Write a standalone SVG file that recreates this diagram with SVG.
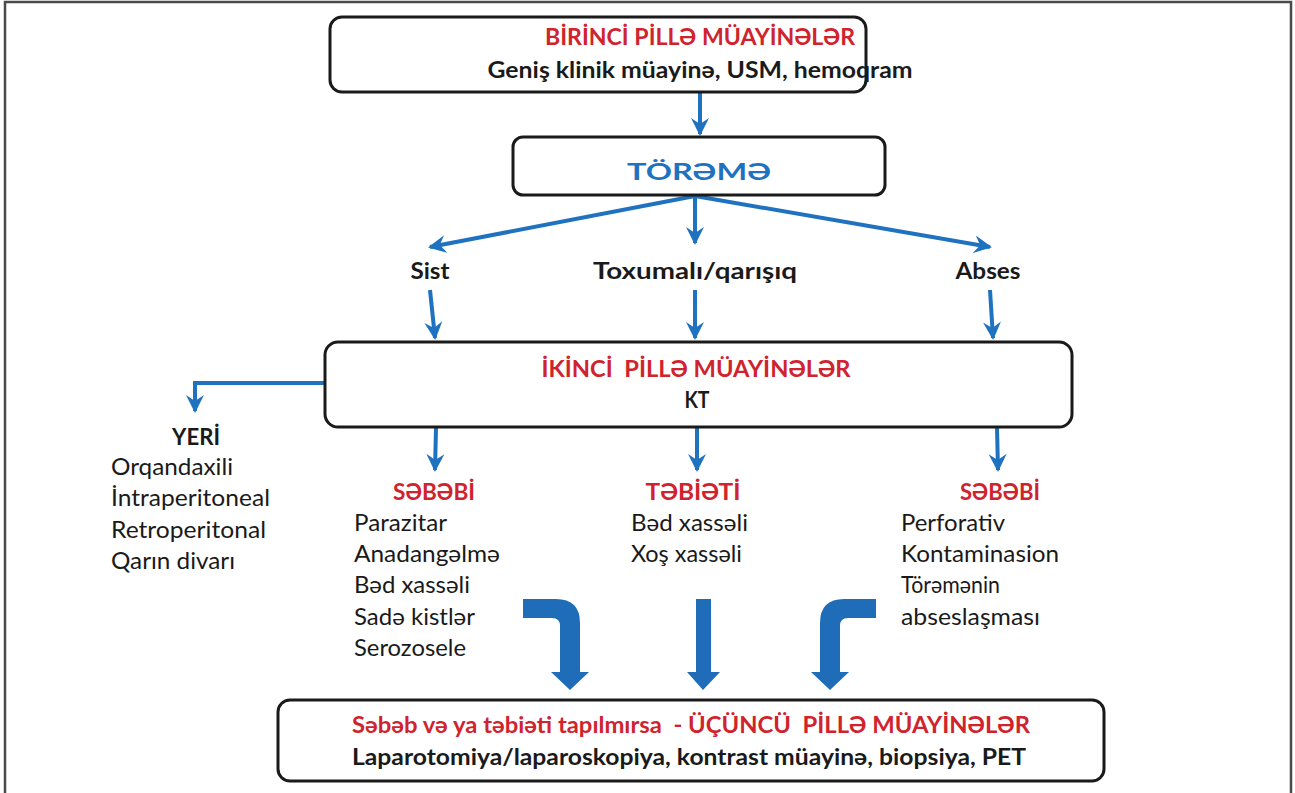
<svg xmlns="http://www.w3.org/2000/svg" width="1295" height="793" viewBox="0 0 1295 793">
<style>
.box{fill:#fff;stroke:#1a1a1a;stroke-width:3}
.t{font-family:Lato,"Open Sans","Liberation Sans",sans-serif;font-size:23px;fill:#1a1a1a;white-space:pre}
.b{font-weight:bold}
.red{fill:#d0232d;font-weight:bold}
.blue{fill:#1f72bf;font-weight:bold}
.c{text-anchor:middle}
.ln{stroke:#1f72bf;stroke-width:4;fill:none}
.big{fill:#1f6db8}
</style>
<defs>
<marker id="ah" viewBox="0 0 18 18" refX="16" refY="9" markerWidth="18" markerHeight="18" markerUnits="userSpaceOnUse" orient="auto">
<path d="M0,0 L18,9 L0,18 L6,9 z" fill="#1f72bf"/>
</marker>
</defs>
<rect width="1295" height="793" fill="#fff"/>
<path d="M5,793 V2 H1291 V793" fill="none" stroke="#4a4a4a" stroke-width="2.5"/>

<g id="connectors">
<line class="ln" x1="700" y1="92" x2="700" y2="134" marker-end="url(#ah)"/>
<line class="ln" x1="695" y1="196" x2="430" y2="247" marker-end="url(#ah)"/>
<line class="ln" x1="695" y1="196" x2="695" y2="243" marker-end="url(#ah)"/>
<line class="ln" x1="695" y1="196" x2="990" y2="247" marker-end="url(#ah)"/>
<line class="ln" x1="430" y1="290" x2="435" y2="338" marker-end="url(#ah)"/>
<line class="ln" x1="695" y1="290" x2="695" y2="338" marker-end="url(#ah)"/>
<line class="ln" x1="990" y1="290" x2="993" y2="338" marker-end="url(#ah)"/>
<path class="ln" d="M325,383 H195 V411" marker-end="url(#ah)"/>
<line class="ln" x1="436" y1="428" x2="435" y2="470" marker-end="url(#ah)"/>
<line class="ln" x1="697" y1="428" x2="697" y2="470" marker-end="url(#ah)"/>
<line class="ln" x1="997" y1="428" x2="998" y2="470" marker-end="url(#ah)"/>
<path class="big" d="M523,599 H556 Q580,599 580,623 V672 H589 L570,690 L551,672 H560 V626 Q560,618 552,618 H523 Z"/>
<path class="big" d="M696,599 H711 V672 H720 L703,690 L687,672 H696 Z"/>
<path class="big" d="M876,599 H844 Q820,599 820,623 V672 H811 L830,690 L849,672 H840 V626 Q840,618 848,618 H876 Z"/>
</g>

<g id="n-birinci">
<rect class="box" x="330" y="17" width="536" height="75" rx="12"/>
<text class="t red c" x="700" y="45" font-size="22" textLength="310" lengthAdjust="spacingAndGlyphs">BİRİNCİ PİLLƏ MÜAYİNƏLƏR</text>
<text class="t b c" x="700" y="78" font-size="22" textLength="425" lengthAdjust="spacingAndGlyphs">Geniş klinik müayinə, USM, hemoqram</text>
</g>

<g id="n-toreme">
<rect class="box" x="513" y="137" width="372" height="58" rx="10"/>
<text class="t blue c" x="699" y="180" font-size="31" textLength="144" lengthAdjust="spacingAndGlyphs">TÖRƏMƏ</text>
</g>

<g id="n-sist"><text class="t b c" x="430" y="279" textLength="39" lengthAdjust="spacingAndGlyphs">Sist</text></g>
<g id="n-toxumali"><text class="t b c" x="695" y="279" textLength="204" lengthAdjust="spacingAndGlyphs">Toxumalı/qarışıq</text></g>
<g id="n-abses"><text class="t b c" x="988" y="279" textLength="65" lengthAdjust="spacingAndGlyphs">Abses</text></g>

<g id="n-ikinci">
<rect class="box" x="325" y="342" width="747" height="85" rx="13"/>
<text class="t red c" x="696" y="377" font-size="22" textLength="309" lengthAdjust="spacingAndGlyphs">İKİNCİ  PİLLƏ MÜAYİNƏLƏR</text>
<text class="t b c" x="697" y="408" font-size="22" textLength="25" lengthAdjust="spacingAndGlyphs">KT</text>
</g>

<g id="n-yeri">
<text class="t b c" x="196" y="445" textLength="48" lengthAdjust="spacingAndGlyphs">YERİ</text>
<text class="t" x="111" y="475" textLength="122" lengthAdjust="spacingAndGlyphs">Orqandaxili</text>
<text class="t" x="111" y="506" textLength="159" lengthAdjust="spacingAndGlyphs">İntraperitoneal</text>
<text class="t" x="111" y="538" textLength="155" lengthAdjust="spacingAndGlyphs">Retroperitonal</text>
<text class="t" x="111" y="569" textLength="124" lengthAdjust="spacingAndGlyphs">Qarın divarı</text>
</g>

<g id="n-sebebi1">
<text class="t red c" x="434" y="500" textLength="82" lengthAdjust="spacingAndGlyphs">SƏBƏBİ</text>
<text class="t" x="354" y="531" textLength="93" lengthAdjust="spacingAndGlyphs">Parazitar</text>
<text class="t" x="354" y="562" textLength="146" lengthAdjust="spacingAndGlyphs">Anadangəlmə</text>
<text class="t" x="354" y="593" textLength="116" lengthAdjust="spacingAndGlyphs">Bəd xassəli</text>
<text class="t" x="354" y="625" textLength="121" lengthAdjust="spacingAndGlyphs">Sadə kistlər</text>
<text class="t" x="354" y="656" textLength="112" lengthAdjust="spacingAndGlyphs">Serozosele</text>
</g>

<g id="n-tebieti">
<text class="t red c" x="693" y="500" textLength="95" lengthAdjust="spacingAndGlyphs">TƏBİƏTİ</text>
<text class="t" x="631" y="531" textLength="117" lengthAdjust="spacingAndGlyphs">Bəd xassəli</text>
<text class="t" x="631" y="562" textLength="111" lengthAdjust="spacingAndGlyphs">Xoş xassəli</text>
</g>

<g id="n-sebebi2">
<text class="t red c" x="1000" y="500" textLength="80" lengthAdjust="spacingAndGlyphs">SƏBƏBİ</text>
<text class="t" x="901" y="531" textLength="104" lengthAdjust="spacingAndGlyphs">Perforativ</text>
<text class="t" x="901" y="562" textLength="158" lengthAdjust="spacingAndGlyphs">Kontaminasion</text>
<text class="t" x="901" y="593" textLength="99" lengthAdjust="spacingAndGlyphs">Törəmənin</text>
<text class="t" x="901" y="625" textLength="139" lengthAdjust="spacingAndGlyphs">abseslaşması</text>
</g>

<g id="n-ucuncu">
<rect class="box" x="278" y="700" width="826" height="81" rx="12"/>
<text class="t red c" x="691" y="733" font-size="22" textLength="678" lengthAdjust="spacingAndGlyphs">Səbəb və ya təbiəti tapılmırsa  - ÜÇÜNCÜ  PİLLƏ MÜAYİNƏLƏR</text>
<text class="t b c" x="689" y="765" font-size="22" textLength="674" lengthAdjust="spacingAndGlyphs">Laparotomiya/laparoskopiya, kontrast müayinə, biopsiya, PET</text>
</g>
</svg>
